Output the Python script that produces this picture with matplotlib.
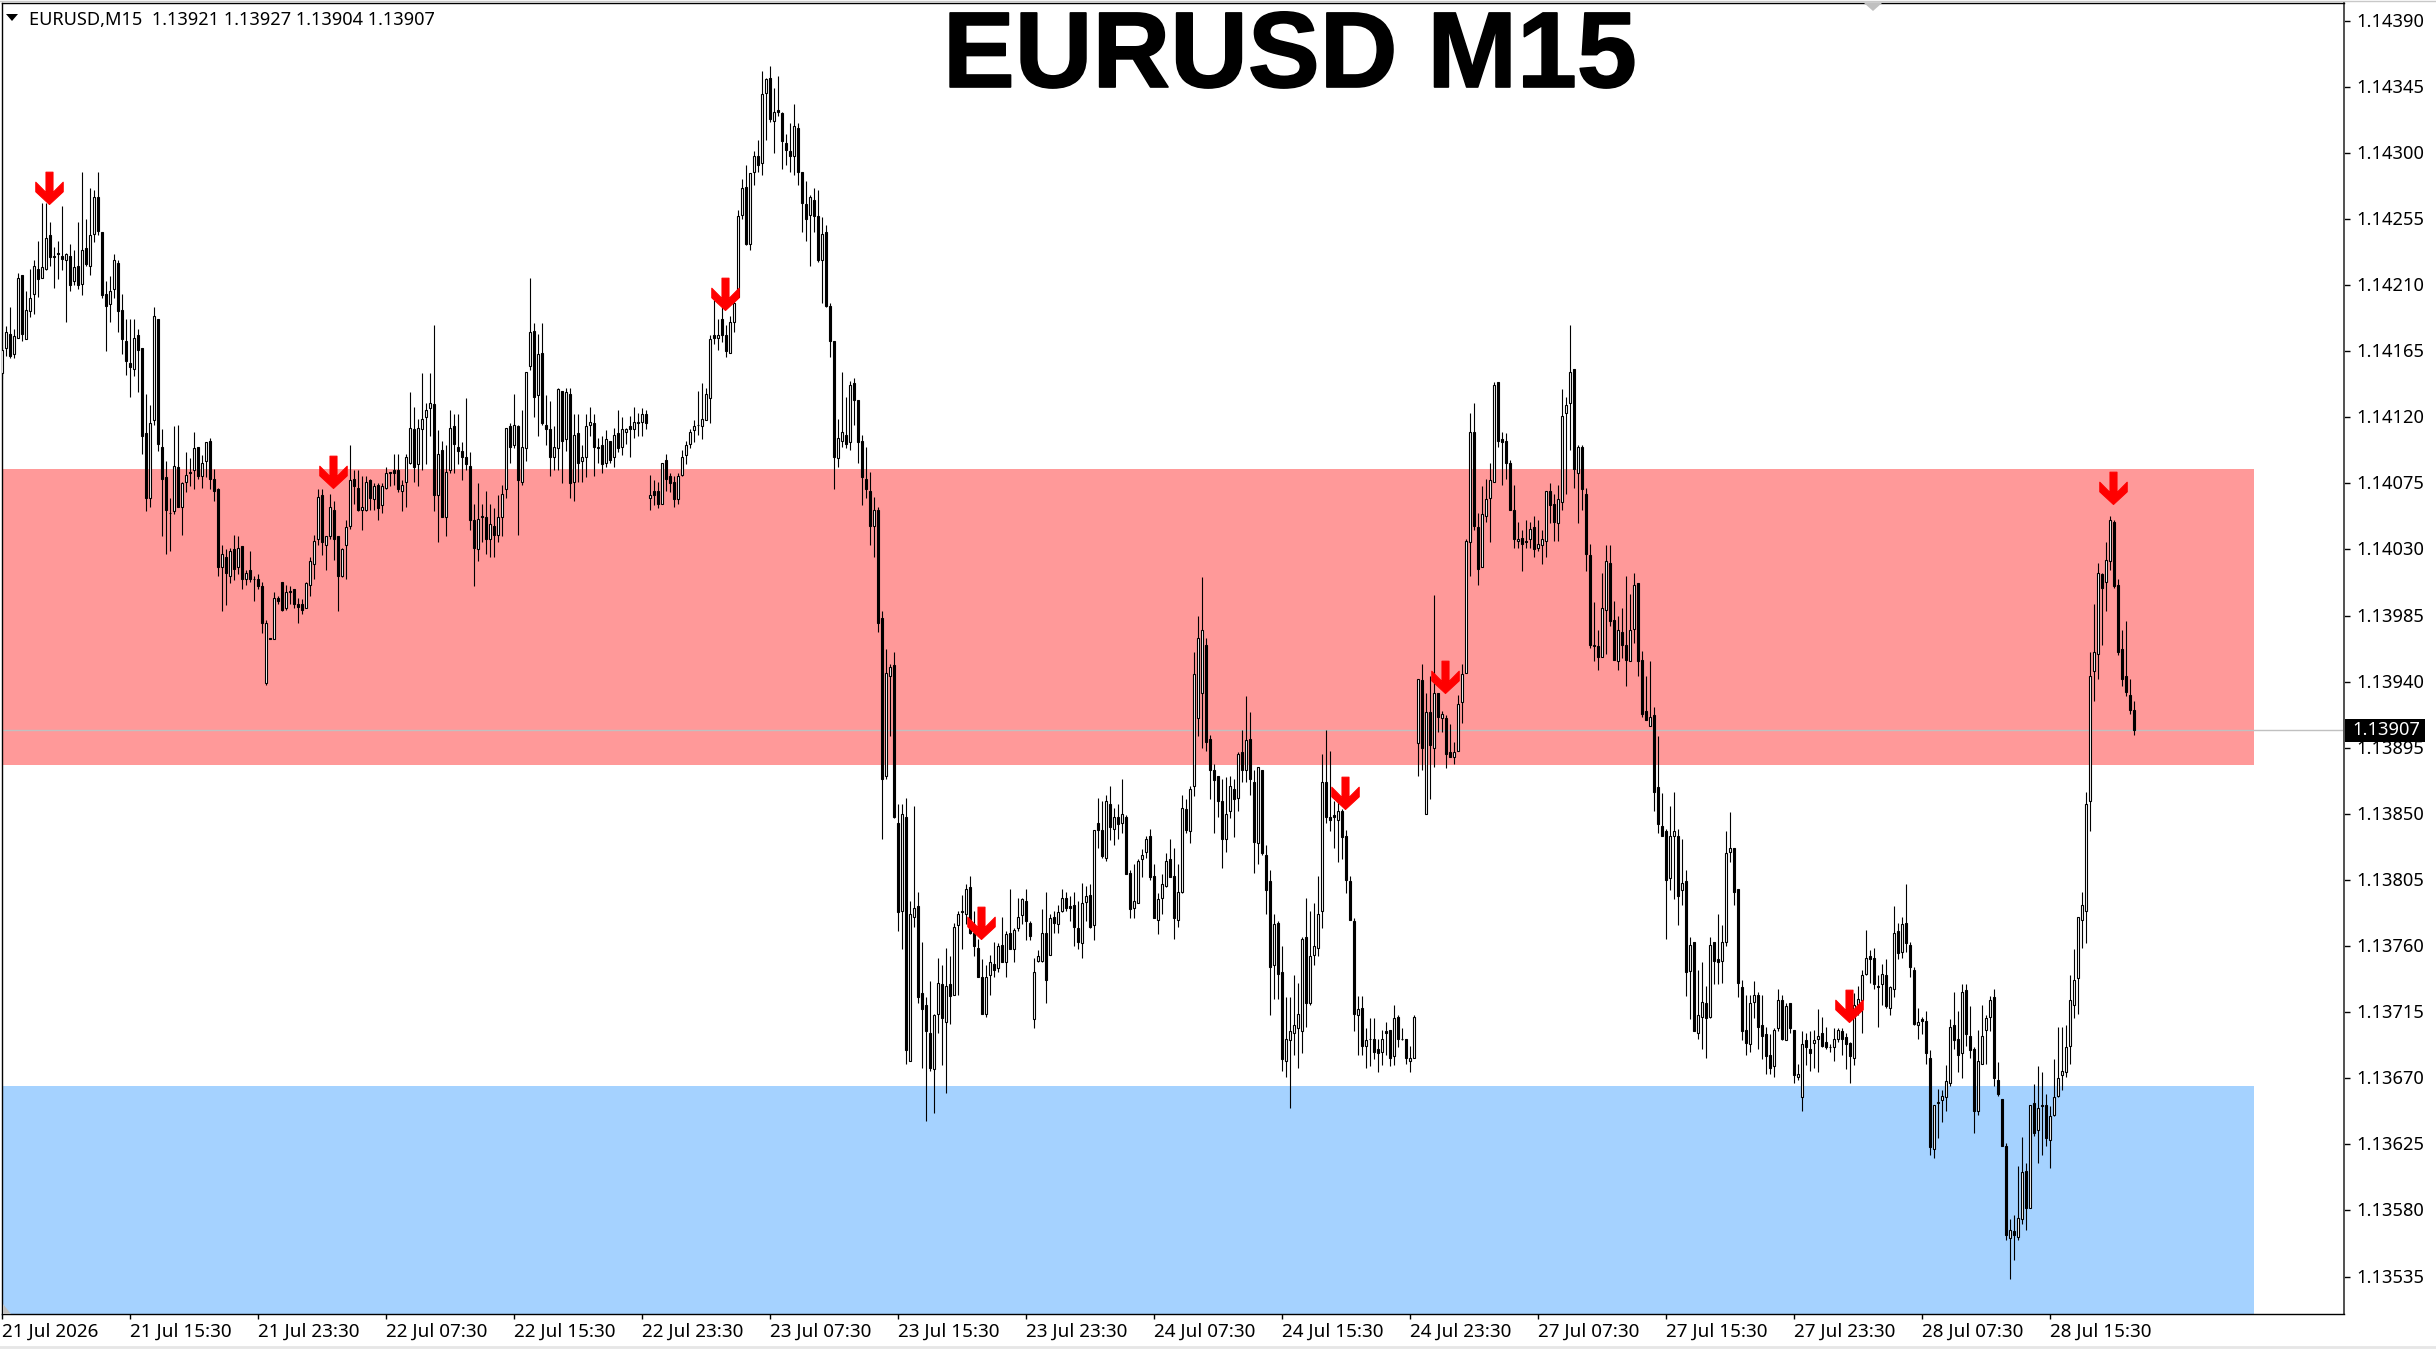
import matplotlib
matplotlib.use("Agg")
import matplotlib.pyplot as plt
from matplotlib.patches import Rectangle, Polygon
from matplotlib.path import Path
from matplotlib.lines import Line2D
from matplotlib.transforms import ScaledTranslation
import matplotlib.patheffects as pe

plt.rcParams['font.family'] = ['Noto Sans', 'DejaVu Sans']

# every bar is (open, high, low, close) in points, 13921 means 1.13921
bars_a = [(14150,14168,14146,14166),(14167,14182,14162,14178),(14177,14195,14160,14162),(14163,14180,14160,14175),(14174,14218,14174,14215),(14217,14217,14172,14177),(14173,14206,14173,14193),(14192,14221,14188,14201),(14204,14227,14190,14223),(14221,14240,14202,14214),
(14215,14266,14215,14222),(14221,14266,14220,14242),(14244,14253,14223,14229),(14229,14236,14208,14230),(14232,14240,14214,14231),(14230,14264,14220,14228),(14227,14232,14185,14231),(14230,14238,14206,14210),(14213,14234,14210,14222),(14223,14253,14207,14210),
(14211,14287,14203,14234),(14235,14255,14223,14224),(14223,14276,14217,14244),(14245,14275,14239,14270),(14270,14287,14244,14247),(14246,14246,14201,14203),(14204,14213,14165,14196),(14197,14216,14185,14206),(14207,14231,14201,14227),(14225,14227,14178,14192),
(14193,14204,14163,14173),(14172,14187,14149,14158),(14157,14187,14134,14154),(14153,14187,14148,14174),(14176,14180,14137,14166),(14167,14167,14095,14107),(14109,14136,14056,14065),(14065,14128,14059,14116),(14118,14195,14115,14189),(14187,14187,14097,14102),
(14100,14112,14039,14078),(14079,14090,14027,14057),(14055,14065,14029,14055),(14056,14114,14054,14087),(14086,14115,14059,14059),(14059,14076,14040,14075),(14076,14096,14069,14081),(14083,14092,14073,14082),(14084,14110,14071,14099),(14100,14100,14078,14080),
(14080,14094,14072,14089),(14090,14103,14079,14103),(14104,14106,14071,14078),(14078,14085,14063,14070),(14071,14072,14012,14018)]

bars_b = [(14018,14033,13988,14027),(14025,14030,13992,14014),(14012,14031,14007,14029),(14030,14040,14009,14017),(14018,14039,14013,14031),(14032,14032,14003,14010),(14010,14016,14006,14014),(14016,14029,14008,14010),(14010,14012,13995,14010),(14010,14013,14003,14005),
(14005,14008,13973,13980),(13939,13982,13938,13980),(13970,13970,13969,13969),(13969,14001,13969,13997),(13997,13998,13993,13995),(14008,14008,13988,13989),(13990,14006,13989,14001),(14002,14005,13993,14001),(14003,14003,13990,13993),(13993,13997,13980,13991),
(13993,13996,13986,13989),(13990,14008,13990,14007),(14006,14025,13998,14022),(14020,14040,14010,14036),(14037,14071,14033,14066),(14067,14071,14026,14035),(14033,14039,14016,14039),(14039,14068,14037,14059),(14057,14063,14023,14037),(14039,14039,13988,14012),
(14012,14031,14011,14030),(14033,14050,14010,14045),(14046,14101,14044,14077),(14078,14084,14061,14073),(14072,14084,14056,14057),(14057,14080,14043,14059),(14057,14080,14056,14076),(14077,14078,14057,14065),(14064,14075,14057,14073),(14074,14075,14050,14058),
(14060,14075,14055,14073),(14072,14086,14071,14082),(14083,14083,14073,14082),(14084,14095,14074,14082),(14084,14095,14069,14071),(14070,14077,14056,14074),(14076,14095,14059,14093),(14089,14137,14088,14113),(14112,14127,14076,14086),(14088,14119,14073,14113),
(14112,14150,14084,14119),(14120,14130,14088,14125),(14126,14150,14107,14130),(14129,14183,14056,14067),(14067,14111,14035,14095),(14098,14104,14052,14052),(14052,14101,14039,14083),(14084,14125,14082,14113),(14114,14122,14082,14102),(14100,14122,14088,14097),
(14097,14103,14077,14093),(14093,14133,14084,14088),(14087,14096,14043,14050),(14050,14061,14005,14031),(14030,14075,14022,14051),(14053,14061,14035,14052),(14052,14070,14027,14037),(14037,14061,14025,14047),(14046,14058,14025,14040),(14040,14067,14035,14052),
(14052,14074,14039,14068),(14071,14113,14065,14113),(14114,14116,14089,14100),(14101,14136,14099,14115),(14114,14115,14040,14077),(14076,14125,14074,14100),(14099,14151,14090,14151),(14155,14215,14152,14178),(14179,14184,14120,14134),(14135,14177,14107,14163),
(14164,14184,14115,14116),(14115,14135,14101,14112),(14112,14131,14080,14093),(14093,14114,14084,14100),(14099,14140,14084,14139),(14138,14138,14075,14104),(14105,14140,14097,14137),(14136,14140,14065,14075),(14076,14122,14063,14108),(14109,14122,14076,14089),
(14090,14101,14076,14093),(14093,14122,14079,14114),(14115,14127,14107,14117),(14116,14122,14080,14100),(14100,14106,14089,14099),(14101,14107,14082,14088),(14089,14111,14086,14105),(14104,14104,14089,14091),(14093,14113,14086,14108),(14109,14125,14096,14099),
(14100,14120,14094,14112),(14110,14113,14102,14112),(14114,14121,14093,14112),(14112,14127,14106,14117),(14117,14123,14107,14116),(14117,14126,14107,14122),(14122,14125,14112,14116)]

bars_c = [(14065,14081,14057,14067),(14070,14077,14060,14067),(14070,14076,14058,14061),(14061,14089,14061,14089),(14091,14095,14070,14078),(14080,14082,14069,14075),(14076,14080,14059,14064),(14064,14082,14061,14080),(14081,14098,14080,14093),(14094,14104,14088,14101),
(14102,14112,14099,14110),(14111,14118,14103,14114),(14115,14138,14108,14115),(14114,14143,14105,14119),(14118,14140,14118,14136),(14133,14176,14116,14173),(14176,14200,14170,14174),(14174,14187,14166,14176),(14187,14195,14171,14176),(14176,14183,14161,14165),
(14164,14189,14164,14185),(14185,14200,14178,14198),(14202,14261,14202,14257),(14258,14282,14255,14276),(14277,14292,14237,14238),(14238,14286,14234,14286),(14287,14301,14278,14298),(14298,14309,14287,14292),(14293,14356,14285,14340),(14341,14351,14309,14350),
(14351,14359,14321,14323),(14322,14344,14300,14328),(14329,14352,14325,14328),(14327,14328,14289,14308),(14307,14313,14292,14302),(14301,14320,14287,14298),(14298,14333,14285,14318),(14317,14320,14278,14287),(14287,14287,14246,14266),(14265,14281,14240,14255),
(14258,14271,14223,14270),(14268,14276,14246,14257),(14257,14275,14226,14227),(14227,14256,14198,14245),(14246,14251,14195,14196),(14196,14198,14161,14172),(14172,14172,14071,14093),(14092,14119,14086,14106),(14104,14151,14100,14110),(14108,14134,14099,14102),
(14103,14145,14098,14142),(14143,14147,14115,14132),(14132,14132,14089,14103),(14104,14108,14060,14079),(14078,14100,14065,14071),(14070,14083,14033,14046),(14046,14066,14025,14057),(14057,14059,13974,13980),(13983,13988,13833,13874),(13876,13962,13874,13946),
(13944,13952,13903,13950),(13951,13960,13847,13848)]

bars_d = [(13844,13857,13770,13783),(13784,13857,13758,13850),(13848,13861,13680,13689),(13682,13791,13682,13782),(13780,13855,13773,13786),(13787,13797,13721,13725),(13728,13763,13677,13717),(13720,13725,13641,13702),(13701,13736,13675,13677),(13676,13714,13646,13713),
(13714,13752,13701,13735),(13734,13747,13679,13711),(13708,13759,13660,13733),(13734,13753,13707,13726),(13727,13776,13727,13773),(13774,13784,13727,13782),(13783,13795,13758,13784),(13782,13802,13775,13799),(13800,13808,13768,13769),(13769,13784,13753,13760),
(13759,13765,13739,13739),(13739,13751,13714,13714),(13714,13747,13712,13739),(13740,13754,13727,13749),(13748,13763,13739,13744),(13745,13762,13742,13760),(13761,13780,13749,13749),(13749,13770,13739,13768),(13769,13799,13758,13758),(13758,13772,13749,13771),
(13772,13793,13770,13780),(13781,13793,13775,13792),(13791,13799,13764,13777),(13776,13777,13764,13767),(13710,13752,13704,13742),(13750,13757,13749,13753),(13750,13785,13749,13769),(13769,13797,13721,13737),(13754,13782,13754,13779),(13780,13784,13769,13776),
(13775,13788,13769,13783),(13784,13799,13783,13793),(13793,13797,13784,13786),(13787,13794,13777,13786),(13788,13797,13760,13773),(13772,13791,13758,13763),(13762,13803,13752,13789),(13790,13801,13777,13794),(13795,13802,13772,13773),(13774,13839,13764,13839),
(13844,13861,13827,13839),(13839,13859,13820,13821),(13820,13863,13818,13859),(13857,13869,13832,13841),(13840,13854,13829,13848),(13848,13857,13833,13843),(13844,13874,13837,13850),(13848,13849,13809,13809),(13810,13812,13779,13785),(13786,13816,13779,13791),
(13789,13819,13789,13818),(13819,13826,13807,13822),(13824,13835,13820,13833),(13835,13840,13805,13807),(13808,13816,13779,13779),(13778,13796,13768,13792),(13793,13809,13782,13802),(13801,13823,13800,13818),(13819,13833,13807,13807),(13808,13827,13765,13779),
(13778,13816,13773,13797),(13797,13863,13796,13854),(13853,13860,13837,13839),(13838,13869,13830,13867),(13869,13960,13862,13945),(13915,13985,13903,13970),(13932,14011,13895,13975),(13965,13970,13893,13899)]

bars_e = [(13901,13904,13860,13880),(13880,13884,13837,13873),(13876,13876,13848,13859),(13859,13874,13813,13833),(13833,13875,13824,13850),(13852,13876,13847,13869),(13867,13874,13834,13860),(13861,13892,13852,13891),(13892,13907,13872,13880),(13880,13930,13872,13900),
(13901,13919,13863,13874),(13872,13880,13810,13831),(13830,13882,13816,13882),(13880,13880,13822,13823),(13822,13829,13782,13798),(13804,13812,13713,13746),(13747,13782,13724,13775),(13776,13777,13724,13741),(13742,13760,13675,13683),(13682,13725,13671,13697),
(13696,13725,13650,13702),(13701,13740,13686,13706),(13704,13735,13677,13714),(13702,13766,13687,13765),(13766,13793,13705,13721),(13721,13784,13720,13753),(13754,13789,13747,13760),(13759,13808,13753,13782),(13784,13891,13772,13872),(13872,13907,13844,13848),
(13848,13893,13838,13846),(13849,13859,13827,13848),(13846,13859,13817,13852),(13852,13853,13819,13834),(13835,13839,13796,13805),(13804,13808,13778,13778),(13777,13779,13702,13714),(13713,13726,13686,13717),(13718,13726,13686,13692),(13692,13704,13677,13696),
(13697,13711,13678,13697),(13697,13711,13683,13688),(13690,13697,13674,13687),(13688,13703,13679,13697),(13702,13708,13686,13701),(13703,13703,13678,13684),(13685,13720,13679,13711),(13712,13713,13691,13697),(13697,13704,13696,13697),(13697,13697,13680,13684),
(13682,13692,13674,13684),(13684,13713,13684,13712)]

bars_f = [(13898,13942,13876,13942),(13941,13952,13880,13895),(13850,13932,13850,13919),(13919,13944,13860,13897),(13895,13999,13882,13932),(13932,13932,13906,13916),(13915,13920,13906,13918),(13915,13917,13881,13891),(13892,13911,13889,13889),(13889,13899,13884,13892),
(13893,13931,13893,13925),(13926,13952,13912,13945),(13946,14037,13946,14036),(14035,14123,14012,14110),(14110,14130,14043,14046),(14045,14055,14006,14017),(14018,14073,14018,14054),(14053,14078,14049,14064),(14065,14089,14035,14077),(14076,14144,14076,14142),
(14144,14144,14100,14104),(14105,14110,14074,14103),(14104,14109,14078,14089),(14089,14091,14057,14057),(14057,14074,14031,14037),(14036,14049,14031,14037),(14038,14043,14015,14034),(14036,14050,14031,14035),(14037,14049,14031,14044),(14045,14053,14025,14030),
(14031,14050,14029,14034),(14033,14043,14020,14037),(14036,14070,14025,14070),(14070,14075,14048,14060),(14061,14068,14036,14049),(14048,14074,14036,14064),(14062,14139,14057,14121),(14123,14134,14068,14128),(14130,14183,14098,14151),(14153,14153,14072,14085),
(14082,14101,14048,14100),(14100,14101,14057,14071),(14068,14072,14015,14027),(14026,14034,13963,13965),(13964,13994,13954,13965),(13964,13975,13948,13957),(13957,14014,13957,13990),(13989,14033,13959,14022),(14021,14033,13978,13981),(13982,13995,13955,13955),
(13954,13985,13948,13975),(13974,13990,13956,13965),(13965,14012,13937,13955),(13954,14000,13954,13975),(13976,14014,13966,14006),(14007,14007,13944,13954)]

bars_g = [(13955,13961,13916,13918),(13920,13944,13914,13914),(13910,13954,13910,13916),(13917,13923,13852,13865),(13868,13903,13837,13843),(13842,13864,13835,13835),(13838,13840,13765,13805),(13806,13855,13798,13835),(13835,13865,13792,13838),(13835,13840,13774,13794),
(13798,13833,13788,13803),(13804,13812,13726,13742),(13743,13766,13710,13761),(13763,13763,13702,13702),(13701,13744,13697,13713),(13712,13749,13690,13722),(13721,13733,13684,13711),(13712,13766,13711,13761),(13763,13763,13734,13750),(13751,13782,13734,13749),
(13750,13774,13735,13763),(13763,13838,13760,13823),(13824,13851,13817,13827),(13827,13827,13788,13797),(13799,13799,13725,13735),(13732,13737,13696,13702),(13703,13727,13686,13694),(13693,13727,13688,13721),(13722,13736,13711,13727),(13727,13729,13690,13705),
(13706,13727,13683,13699),(13700,13705,13673,13685),(13686,13700,13673,13677),(13678,13704,13671,13703),(13704,13731,13702,13723),(13723,13727,13696,13697),(13696,13721,13696,13719),(13721,13721,13701,13704),(13703,13703,13667,13672),(13671,13680,13669,13673),
(13657,13702,13648,13693),(13696,13701,13679,13691),(13690,13702,13675,13687),(13694,13703,13677,13696),(13697,13717,13674,13699),(13701,13712,13691,13692),(13695,13705,13690,13691),(13691,13693,13688,13691),(13691,13704,13682,13697),(13697,13704,13695,13703),
(13702,13704,13686,13697),(13698,13701,13676,13693),(13694,13695,13667,13685),(13684,13728,13679,13720),(13720,13733,13713,13724)]

bars_h = [(13723,13744,13701,13740),(13741,13771,13740,13752),(13753,13757,13735,13751),(13752,13759,13731,13734),(13733,13740,13705,13732),(13734,13748,13720,13741),(13740,13751,13718,13719),(13718,13733,13713,13732),(13731,13787,13725,13769),(13770,13776,13751,13755),
(13756,13780,13752,13775),(13776,13802,13756,13762),(13761,13763,13739,13746),(13744,13746,13706,13707),(13706,13718,13697,13708),(13710,13712,13700,13709),(13709,13716,13680,13687),(13684,13689,13618,13623),(13622,13652,13616,13652),(13653,13663,13629,13654),
(13655,13662,13640,13658),(13657,13679,13648,13668),(13667,13710,13665,13705),(13706,13729,13690,13696),(13697,13716,13674,13686),(13687,13734,13670,13729),(13730,13734,13692,13700),(13699,13719,13684,13689),(13690,13691,13633,13648),(13648,13703,13645,13682),
(13680,13720,13680,13699),(13703,13713,13680,13711),(13712,13726,13702,13723),(13725,13731,13665,13670),(13669,13681,13658,13659),(13656,13656,13624,13624),(13624,13626,13560,13563),(13561,13574,13533,13567),(13566,13577,13546,13563),(13562,13610,13560,13575),
(13574,13630,13571,13606),(13607,13612,13567,13582),(13582,13652,13582,13652),(13653,13666,13631,13633),(13635,13678,13612,13650),(13652,13674,13618,13651),(13652,13659,13624,13629),(13628,13651,13609,13644),(13645,13683,13644,13657),(13658,13705,13657,13670),
(13672,13705,13662,13675),(13674,13706,13671,13691),(13692,13740,13680,13723),(13720,13758,13711,13737),(13738,13780,13714,13780),(13778,13797,13759,13788),(13784,13865,13762,13857),(13859,13960,13838,13944),(13947,13993,13927,13960),(13959,14021,13942,14014),
(14013,14014,13965,14004),(14008,14035,13988,14023),(14022,14053,14016,14050),(14049,14050,14004,14005),(14006,14010,13958,13960),(13962,13975,13937,13942),(13944,13981,13930,13933),(13931,13942,13918,13921),(13921,13927,13904,13907)]

# bar number and price of the tip of each red arrow
arrow_bars = [11.75, 82.75, 180.75, 244.75, 335.75, 360.75, 461.75, 527.75]
arrow_tips = [14265, 14072, 14193, 13765, 13853, 13932, 13708, 14061]

resistance_zone = (13883, 14085)
support_zone = (13509, 13665)
zone_end = 563
last_price = 13907

price_ticks = [14390, 14345, 14300, 14255, 14210, 14165, 14120, 14075, 14030, 13985,
               13940, 13895, 13850, 13805, 13760, 13715, 13670, 13625, 13580, 13535]
time_labels = ["21 Jul 2026", "21 Jul 15:30", "21 Jul 23:30", "22 Jul 07:30", "22 Jul 15:30",
               "22 Jul 23:30", "23 Jul 07:30", "23 Jul 15:30", "23 Jul 23:30", "24 Jul 07:30",
               "24 Jul 15:30", "24 Jul 23:30", "27 Jul 07:30", "27 Jul 15:30", "27 Jul 23:30",
               "28 Jul 07:30", "28 Jul 15:30"]

W, H = 2436, 1349
bars = bars_a + bars_b + bars_c + bars_d + bars_e + bars_f + bars_g + bars_h
opens, highs, lows, closes = [[1 + v / 1e5 for v in col] for col in zip(*bars)]
xs = list(range(len(bars)))
ymin, ymax = 1.135095, 1.14402

fig = plt.figure(figsize=(W / 100, H / 100), dpi=100, facecolor="white")
ax = fig.add_axes([2 / W, 35 / H, 2341.7 / W, 1311 / H])
ax.set_xlim(-0.075, 585.35)
ax.set_ylim(ymin, ymax)

# the two zones
for (lo, hi), colour in [(resistance_zone, "#FF9999"), (support_zone, "#A5D2FF")]:
    ax.add_patch(Rectangle((-1, 1 + lo / 1e5), zone_end + 1, (hi - lo) / 1e5,
                           facecolor=colour, edgecolor="none", zorder=1))

ax.axhline(1 + last_price / 1e5, color="#C0C0C0", lw=1, zorder=2)

# candles: white body when price went up, black when it went down
wicks = ax.vlines(xs, lows, highs, color="black", lw=0.8, zorder=3)
wicks.set_snap(True)
faces = ["white" if c >= o else "black" for o, c in zip(opens, closes)]
bottoms = [min(o, c) for o, c in zip(opens, closes)]
heights = [abs(c - o) for o, c in zip(opens, closes)]
ax.bar(xs, heights, width=0.5, bottom=bottoms, color=faces, edgecolor="black", linewidth=0.8, zorder=4)

# sell arrows, the origin of the marker is the tip
arrow = Path([(0, 0), (-13.7, 12.7), (-13.7, 22.3), (-3.5, 12), (-3.5, 32.3), (3.5, 32.3),
              (3.5, 12), (13.7, 22.3), (13.7, 12.7), (0, 0)], closed=True)
ax.plot(arrow_bars, [1 + v / 1e5 for v in arrow_tips], ls="none", marker=arrow, ms=46.5,
        mfc="#FF0000", mec="#FF0000", mew=0.8, zorder=5)

# axes look
ax.yaxis.tick_right()
ax.set_yticks([1 + v / 1e5 for v in price_ticks])
ax.set_yticklabels([f"{1 + v / 1e5:.5f}" for v in price_ticks], fontsize=13.2)
ax.tick_params(axis="y", length=4, width=1, pad=5, colors="black")
for lab in ax.get_yticklabels():
    lab.set_transform(lab.get_transform() + ScaledTranslation(0, 1 / 100, fig.dpi_scale_trans))
ax.set_xticks([i * 32 for i in range(len(time_labels))])
ax.set_xticklabels(time_labels, fontsize=13.6, ha="left")
ax.tick_params(axis="x", length=3.5, width=1, pad=3, colors="black")
for side in ["left", "top", "bottom"]:
    ax.spines[side].set_linewidth(1)
ax.spines["right"].set_linewidth(1.4)
ax.spines["right"].set_color("#505050")

# current price box on the axis
box_h = 1 + last_price / 1e5
ax.add_patch(Rectangle((1.0005, box_h - 11.5 / 1.469 / 1e5), 0.0342, 23 / 1.469 / 1e5,
                       transform=ax.get_yaxis_transform(), facecolor="black", edgecolor="none",
                       clip_on=False, zorder=9))
ax.text(1.0038, box_h, f"{box_h:.5f}", transform=ax.get_yaxis_transform(),
        color="white", fontsize=13.2, va="center", ha="left", zorder=10, clip_on=False)

# header text
fig.text(29 / W, 1 - 25 / H, "EURUSD,M15  1.13921 1.13927 1.13904 1.13907", fontsize=13.1, va="baseline", ha="left")
fig.add_artist(Polygon([(6 / W, 1 - 14 / H), (18 / W, 1 - 14 / H), (12 / W, 1 - 21 / H)],
                       closed=True, facecolor="black", edgecolor="none", transform=fig.transFigure))
title = fig.text(1290 / W, 1 - 87 / H, "EURUSD M15", fontsize=77.5, fontweight="bold", family="Liberation Sans",
                 va="baseline", ha="center", color="black")
title.set_path_effects([pe.withStroke(linewidth=1.2, foreground="black")])

# small grey marks of the terminal window
fig.add_artist(Polygon([(1864 / W, 1 - 3 / H), (1882 / W, 1 - 3 / H), (1873 / W, 1 - 11 / H)],
                       closed=True, facecolor="#C0C0C0", edgecolor="none", transform=fig.transFigure))
fig.add_artist(Polygon([(3 / W, 1 - 1304 / H), (3 / W, 1 - 1314 / H), (11 / W, 1 - 1314 / H)],
                       closed=True, facecolor="#C0C0C0", edgecolor="none", transform=fig.transFigure))
fig.add_artist(Line2D([0, 1], [1 - 1347 / H, 1 - 1347 / H], color="#E6E6E6", lw=2, transform=fig.transFigure))
fig.add_artist(Line2D([0, 1], [1 - 1 / H, 1 - 1 / H], color="#C8C8C8", lw=1, transform=fig.transFigure))

fig.savefig("out.png", dpi=100)
